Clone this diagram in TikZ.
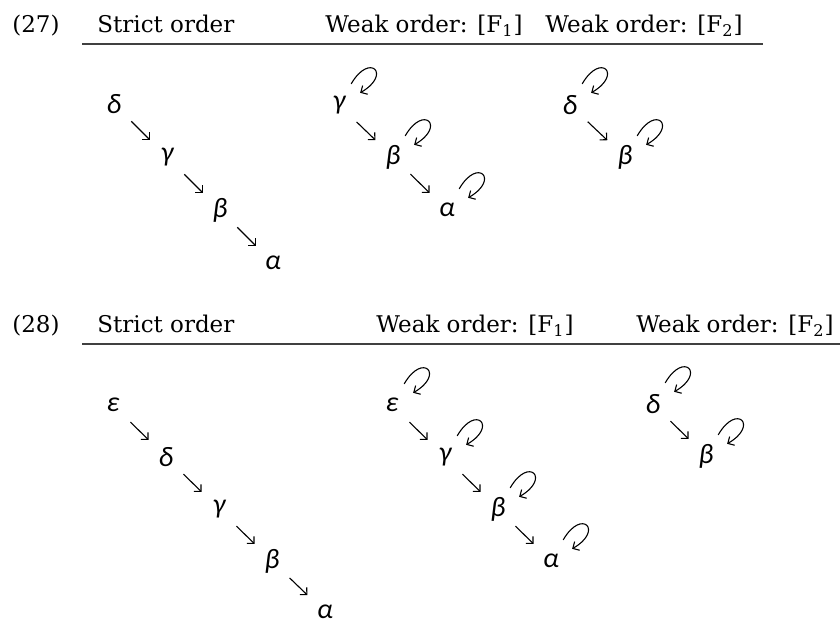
\documentclass[tikz,border=0pt]{standalone}
\usepackage{fontspec}
\setmainfont{DejaVu Serif}
\newfontfamily\gkfont{Carlito}
\usetikzlibrary{arrows.meta}
\begin{document}
\begin{tikzpicture}[x=0.5pt,y=-0.5pt,
  gk/.style={circle,inner sep=0pt,minimum size=24pt,font=\gkfont\itshape\fontsize{14}{14}\selectfont},
  hd/.style={anchor=base west,inner sep=0pt,font=\fontsize{11.5}{13}\selectfont},
  arr/.style={line width=0.55pt,-{Straight Barb[length=2.5pt,width=5pt]}},
  rl/.style={line width=0.7pt,black!75},
  selfloop/.style={arr,out=60,in=30,distance=6.5mm}]
\useasboundingbox (0,0) rectangle (840,630);
% ---------- (27) ----------
\node[hd] (n27) at (12,33) {(27)};
\node[hd] (s1) at (97,33) {Strict order};
\node[hd] (w11) at (325,33) {Weak order: [F\textsubscript{1}]};
\node[hd] (w12) at (545,33) {Weak order: [F\textsubscript{2}]};
\coordinate (r1a) at (82,44); \coordinate (r1b) at (763,44);
\draw[rl] (r1a) -- (r1b);
% strict
\node[gk] (A1) at (114,104) {δ};
\node[gk] (A2) at (167,157) {γ};
\node[gk] (A3) at (220,210) {β};
\node[gk] (A4) at (273,263) {α};
\draw[arr] (A1) -- (A2); \draw[arr] (A2) -- (A3); \draw[arr] (A3) -- (A4);
% weak F1
\node[gk] (B1) at (339,105) {γ};
\node[gk] (B2) at (393,157) {β};
\node[gk] (B3) at (447,210) {α};
\draw[arr] (B1) -- (B2); \draw[arr] (B2) -- (B3);
\path (B1) edge[selfloop] (B1) (B2) edge[selfloop] (B2) (B3) edge[selfloop] (B3);
% weak F2
\node[gk] (C1) at (570,105) {δ};
\node[gk] (C2) at (625,157) {β};
\draw[arr] (C1) -- (C2);
\path (C1) edge[selfloop] (C1) (C2) edge[selfloop] (C2);
% ---------- (28) ----------
\node[hd] (n28) at (12,333) {(28)};
\node[hd] (s2) at (97,333) {Strict order};
\node[hd] (w21) at (376,333) {Weak order: [F\textsubscript{1}]};
\node[hd] (w22) at (636,333) {Weak order: [F\textsubscript{2}]};
\coordinate (r2a) at (82,344); \coordinate (r2b) at (840,344);
\draw[rl] (r2a) -- (r2b);
% strict
\node[gk] (D1) at (113,405) {ε};
\node[gk] (D2) at (166,457) {δ};
\node[gk] (D3) at (219,509) {γ};
\node[gk] (D4) at (272,561) {β};
\node[gk] (D5) at (325,612) {α};
\draw[arr] (D1) -- (D2); \draw[arr] (D2) -- (D3); \draw[arr] (D3) -- (D4); \draw[arr] (D4) -- (D5);
% weak F1
\node[gk] (E1) at (392,405) {ε};
\node[gk] (E2) at (445,457) {γ};
\node[gk] (E3) at (498,509) {β};
\node[gk] (E4) at (551,561) {α};
\draw[arr] (E1) -- (E2); \draw[arr] (E2) -- (E3); \draw[arr] (E3) -- (E4);
\path (E1) edge[selfloop] (E1) (E2) edge[selfloop] (E2) (E3) edge[selfloop] (E3) (E4) edge[selfloop] (E4);
% weak F2
\node[gk] (F1) at (653,404) {δ};
\node[gk] (F2) at (706,456) {β};
\draw[arr] (F1) -- (F2);
\path (F1) edge[selfloop] (F1) (F2) edge[selfloop] (F2);
\end{tikzpicture}
\end{document}
